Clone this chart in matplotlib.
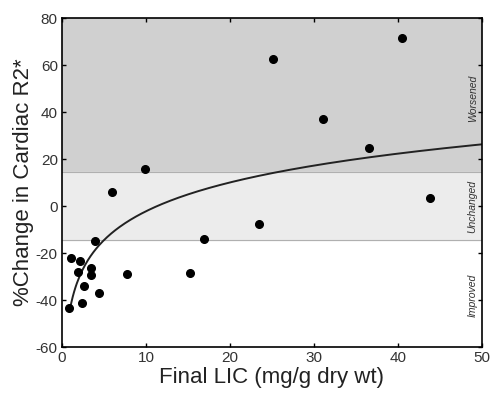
import numpy as np
import matplotlib
matplotlib.use("Agg")
import matplotlib.pyplot as plt

plt.rcParams['font.family'] = ['Liberation Sans', 'DejaVu Sans']
plt.rcParams['axes.unicode_minus'] = False

lic = [0.85, 1.1, 2.1, 1.95, 3.45, 3.45, 2.6, 2.35, 4.4, 3.9, 5.9, 7.8, 9.9,
       15.2, 16.9, 23.4, 25.1, 31.1, 36.5, 40.5, 43.8]
change = [-43.6, -22.1, -23.3, -28.2, -26.5, -29.2, -34.0, -41.1, -36.9, -14.8,
          5.8, -28.8, 15.8, -28.5, -14.2, -7.7, 62.7, 37.2, 24.6, 71.4, 3.4]

# logarithmic fit: y = fit_a + fit_b * ln(x)
fit_a = -43.0
fit_b = 17.7
fit_xmin, fit_xmax = 0.95, 50

band_limit = 14.5
band_labels = ["Worsened", "Unchanged", "Improved"]
band_label_y = [46, 0, -38]
xticks = [0, 10, 20, 30, 40, 50]
yticks = [-60, -40, -20, 0, 20, 40, 60, 80]

fig = plt.figure(figsize=(4.9, 3.95), dpi=100)
ax = fig.add_axes([0.1265, 0.1215, 0.857, 0.8329])
ax.set_xlim(0, 50)
ax.set_ylim(-60, 80)

ax.axhspan(band_limit, 80, color='#d0d0d0', zorder=0)
ax.axhspan(-band_limit, band_limit, color='#ececec', zorder=0)
ax.axhline(band_limit, color='#b0b0b0', lw=0.8, zorder=0.5)
ax.axhline(-band_limit, color='#b0b0b0', lw=0.8, zorder=0.5)

xs = np.linspace(fit_xmin, fit_xmax, 300)
ax.plot(xs, fit_a + fit_b * np.log(xs), color='#222222', lw=1.4, zorder=2)
ax.plot(lic, change, 'o', color='black', ms=5.5, zorder=3)

for lab, yc in zip(band_labels, band_label_y):
    ax.text(48.9, yc, lab, rotation=90, ha='center', va='center',
            fontsize=7.5, style='italic', color='#333333')

ax.set_xticks(xticks)
ax.set_yticks(yticks)
ax.tick_params(direction='in', top=True, right=True, length=3, width=1,
               labelsize=11, pad=3, labelcolor='#333333')
for s in ax.spines.values():
    s.set_linewidth(1.2)
ax.set_xlabel("Final LIC (mg/g dry wt)", fontsize=16, labelpad=1,
              color='#222222')
ax.set_ylabel("%Change in Cardiac R2*", fontsize=16, labelpad=1,
              color='#222222')

fig.savefig("out.png", dpi=100)
